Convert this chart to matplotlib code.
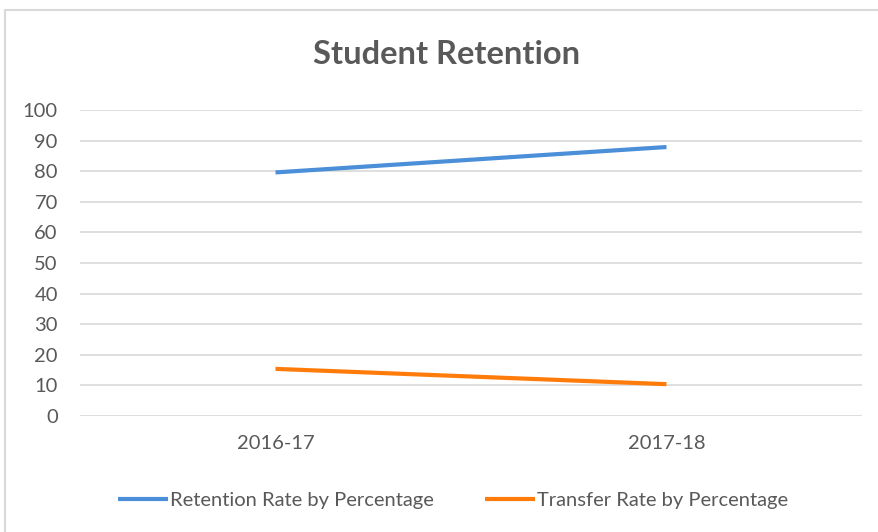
import matplotlib.pyplot as plt
from matplotlib.patches import Rectangle

years = ['2016-17', '2017-18']
retention = [79.6, 87.9]
transfer = [15.4, 10.4]
y_ticks = list(range(0, 101, 10))

plt.rcParams['font.family'] = ['Lato', 'DejaVu Sans']
W, H = 879, 532
fig = plt.figure(figsize=(W / 100, H / 100), dpi=100)

# chart frame (left and top edges visible only)
fig.patches.append(Rectangle((5 / W, -0.1), 1.2, 1 - 10 / H + 0.1, transform=fig.transFigure,
                             fill=False, edgecolor='#d9d9d9', linewidth=1.5))

ax = fig.add_axes([80 / W, 1 - 416 / H, (862 - 80) / W, (416 - 110) / H])
x = range(len(years))
ax.plot(x, retention, color='#4a8fd8', linewidth=3, solid_capstyle='butt',
        label='Retention Rate by Percentage')
ax.plot(x, transfer, color='#ff7c0a', linewidth=3, solid_capstyle='butt',
        label='Transfer Rate by Percentage')

ax.set_xlim(-0.5, 1.5)
ax.set_ylim(0, 100)
ax.set_yticks(y_ticks)
ax.set_xticks(list(x))
ax.set_xticklabels(years)
ax.grid(axis='y', color='#d9d9d9', linewidth=1.2)
ax.set_axisbelow(True)
for s in ax.spines.values():
    s.set_visible(False)
ax.tick_params(length=0, colors='#595959', labelsize=14.5)
ax.tick_params(axis='y', pad=16)
ax.tick_params(axis='x', pad=14)

fig.text(447 / W, 1 - 55 / H, 'Student Retention', ha='center', va='center',
         fontsize=23.5, fontweight='bold', color='#595959')

leg = fig.legend(loc='center', bbox_to_anchor=(453 / W, 1 - 500 / H), ncol=2,
                 frameon=False, fontsize=14.5, handlelength=2.5, handletextpad=0.1,
                 columnspacing=2.5)
for t in leg.get_texts():
    t.set_color('#595959')

fig.savefig('out.png', dpi=100)
